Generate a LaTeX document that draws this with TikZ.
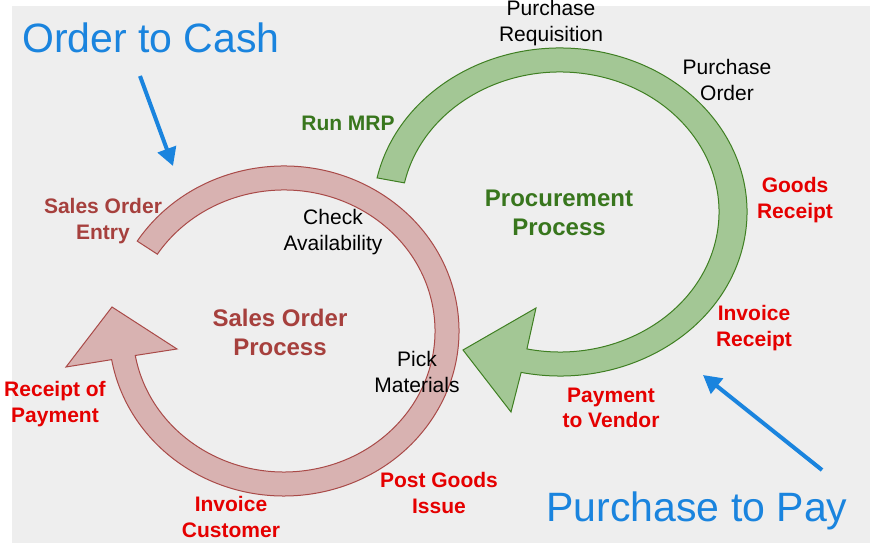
\documentclass[tikz,border=0pt]{standalone}
\usepackage{fontspec}
\setmainfont{Liberation Sans}
\usetikzlibrary{arrows.meta,calc}
\definecolor{bg}{HTML}{EEEEEE}
\definecolor{redfill}{HTML}{D8B2B1}
\definecolor{redline}{HTML}{A94A48}
\definecolor{redtxt}{HTML}{A6403D}
\definecolor{greenfill}{HTML}{A3C795}
\definecolor{greenline}{HTML}{3F7F22}
\definecolor{greentxt}{HTML}{38761D}
\definecolor{brightred}{HTML}{E50000}
\definecolor{blueclr}{HTML}{1A84DE}
\begin{document}
\begin{tikzpicture}[x=1pt,y=1pt,
  lbl/.style={align=center, inner sep=0pt, font=\fontsize{21}{25.5}\selectfont},
  blbl/.style={lbl, font=\fontsize{21}{25.5}\selectfont\bfseries},
  ttl/.style={align=center, inner sep=0pt, font=\fontsize{24}{29}\selectfont\bfseries},
  bigttl/.style={inner sep=0pt, text=blueclr, font=\fontsize{41}{48}\selectfont},
  bluearrow/.style={draw=blueclr, line width=4pt, -{Triangle[length=18pt,width=19pt]}},
  redring/.style={fill=redfill, draw=redline, line width=1pt, line join=miter},
  greenring/.style={fill=greenfill, draw=greenline, line width=1pt, line join=miter}
]
\useasboundingbox (0,0) rectangle (870,545);
\fill[bg] (12,2) rectangle (870,539);

% red ring (sales order process)
\coordinate (rc) at (284,214);
\filldraw[redring]
  ($(rc)+(147:175pt and 165pt)$) arc[start angle=147, end angle=-170, x radius=175pt, y radius=165pt]
  -- (66,178) -- (112,238) -- (177,196)
  -- ($(rc)+(-170:151pt and 141pt)$) arc[start angle=-170, end angle=147, x radius=151pt, y radius=141pt]
  -- cycle;

% green ring (procurement process)
\coordinate (gc) at (560,333);
\filldraw[greenring]
  ($(gc)+(168:187pt and 164pt)$) arc[start angle=168, end angle=-102, x radius=187pt, y radius=164pt]
  -- (511,133) -- (463,195) -- (536,237)
  -- ($(gc)+(-102:159pt and 140pt)$) arc[start angle=-102, end angle=168, x radius=159pt, y radius=140pt]
  -- cycle;

% titles
\node[bigttl, anchor=base] (otc) at (151,492) {Order to Cash};
\node[bigttl, anchor=base] (ptp) at (697,23) {Purchase to Pay};

% blue arrows
\coordinate (otcS) at (140,469);
\coordinate (otcE) at (173,379);
\draw[bluearrow] (otcS) -- (otcE);
\coordinate (ptpS) at (822,75);
\coordinate (ptpE) at (703,170);
\draw[bluearrow] (ptpS) -- (ptpE);

% sales order labels
\node[blbl, text=redtxt] (soe) at (103,324) {Sales Order\\Entry};
\node[lbl] (chk) at (333,313) {Check\\Availability};
\node[ttl, text=redtxt] (sop) at (280,213) {Sales Order\\Process};
\node[lbl] (pick) at (417,173) {Pick\\Materials};
\node[blbl, text=brightred] (rop) at (55,141) {Receipt of\\Payment};
\node[blbl, text=brightred] (ivc) at (231,28) {Invoice\\Customer};
\node[blbl, text=brightred] (pgi) at (439,52) {Post Goods\\Issue};

% procurement labels
\node[blbl, text=greentxt] (mrp) at (348,422) {Run MRP};
\node[lbl] (preq) at (551,522) {Purchase\\Requisition};
\node[lbl] (po) at (727,465) {Purchase\\Order};
\node[ttl, text=greentxt] (pp) at (559,332) {Procurement\\Process};
\node[blbl, text=brightred] (gr) at (795,345) {Goods\\Receipt};
\node[blbl, text=brightred] (ir) at (754,217) {Invoice\\Receipt};
\node[blbl, text=brightred] (pv) at (611,137) {Payment\\to Vendor};
\end{tikzpicture}
\end{document}
